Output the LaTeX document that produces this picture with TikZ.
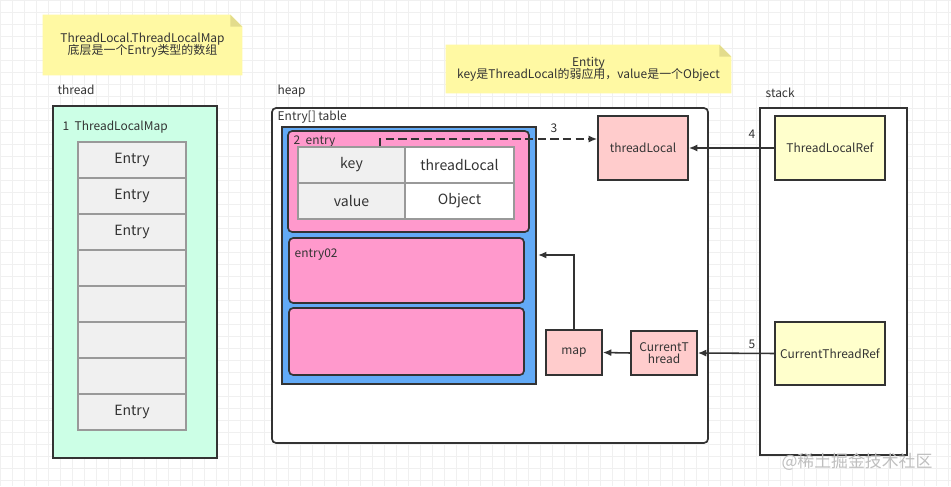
\documentclass[tikz,border=0pt]{standalone}
\usepackage{fontspec}
\setmainfont{Noto Sans CJK SC}
\usepackage{tikz}
\usetikzlibrary{arrows.meta,calc,backgrounds}
\definecolor{notefill}{HTML}{FFF9A3}
\definecolor{notefold}{HTML}{E3DC8C}
\definecolor{mintfill}{HTML}{CCFFE6}
\definecolor{cellfill}{HTML}{F0F0F0}
\definecolor{bluefill}{HTML}{62AAF6}
\definecolor{pinkfill}{HTML}{FF99CC}
\definecolor{objfill}{HTML}{FFCCCC}
\definecolor{reffill}{HTML}{FFFFCC}
\definecolor{ink}{HTML}{333333}
\newcommand{\lbltxt}{\fontsize{8.5}{10.5}\selectfont}
\newcommand{\celltxt}{\fontsize{10}{12}\selectfont}
\tikzstyle{box}=[rectangle, line width=1.2pt, draw=ink, inner sep=0pt, anchor=center, text=ink, font=\lbltxt, align=center]
\tikzstyle{cell}=[rectangle, line width=0.9pt, draw=black!40, fill=cellfill, inner sep=0pt, anchor=center, text=ink, font=\celltxt]
\tikzstyle{annot}=[align=center, text=ink, font=\lbltxt, inner sep=1pt]
\tikzstyle{ref}=[line width=1.1pt, draw=ink, -{Latex[length=6pt,width=5pt]}]

\begin{document}
\begin{tikzpicture}[x=0.025cm, y=-0.025cm]
	\useasboundingbox (0,0) rectangle (951,486);
	\fill[white] (0,0) rectangle (951,486);
	\draw[black!6, step=0.3cm] (0,0) grid (951,486);

	% notes
	\node[annot, minimum width=4.975cm, minimum height=1.5cm](note1) at (142.5,45){};
	\fill[notefill] (note1.south west) -- (note1.north west) -- ([xshift=-0.3cm]note1.north east) -- ([yshift=-0.3cm]note1.north east) -- (note1.south east) -- cycle;
	\fill[notefold] ([xshift=-0.3cm]note1.north east) -- ([yshift=-0.3cm]note1.north east) -- ([xshift=-0.3cm, yshift=-0.3cm]note1.north east) -- cycle;
	\node[annot] at (142.5,45) {ThreadLocal.ThreadLocalMap\\[-2pt]底层是一个Entry类型的数组};

	\node[annot, minimum width=7.125cm, minimum height=1.2cm](note2) at (588.5,69){};
	\fill[notefill] (note2.south west) -- (note2.north west) -- ([xshift=-0.3cm]note2.north east) -- ([yshift=-0.3cm]note2.north east) -- (note2.south east) -- cycle;
	\fill[notefold] ([xshift=-0.3cm]note2.north east) -- ([yshift=-0.3cm]note2.north east) -- ([xshift=-0.3cm, yshift=-0.3cm]note2.north east) -- cycle;
	\node[annot] at (588.5,69) {Entity\\[-2pt]key是ThreadLocal的弱应用，value是一个Object};

	% thread
	\node[annot, anchor=west](threadlbl) at (56,90) {thread};
	\node[box, fill=mintfill, minimum width=4.1cm, minimum height=8.8cm](thread) at (135,282){};
	\node[annot, anchor=west](maplbl) at (61,127) {1\ \ ThreadLocalMap};
	\foreach \y/\t [count=\i] in {160/Entry,196/Entry,232/Entry,268/,304/,340/,376/,412/Entry}
		\node[cell, minimum width=2.7cm, minimum height=0.9cm](slot\i) at (132,\y){\t};

	% heap
	\node[annot, anchor=west](heaplbl) at (276,91) {heap};
	\node[box, fill=white, rounded corners=3pt, minimum width=10.9cm, minimum height=8.375cm](heap) at (490,275.5){};
	\node[annot, anchor=west](tablelbl) at (276,117) {Entry[] table};
	\node[box, fill=bluefill, minimum width=6.35cm, minimum height=6.425cm](table) at (409,255.5){};
	\node[box, fill=pinkfill, rounded corners=3pt, minimum width=6.025cm, minimum height=2.525cm](entry01) at (408.5,181.5){};
	\node[annot, anchor=west](entrylbl) at (292,142) {2\ \ entry};
	\node[cell, minimum width=2.675cm, minimum height=0.9cm](key) at (351.5,165){key};
	\node[cell, fill=white, minimum width=2.725cm, minimum height=0.9cm](keyval) at (459.5,165){threadLocal};
	\node[cell, minimum width=2.675cm, minimum height=0.9cm](value) at (351.5,201){value};
	\node[cell, fill=white, minimum width=2.725cm, minimum height=0.9cm](valueval) at (459.5,201){Object};
	\node[box, fill=pinkfill, rounded corners=3pt, minimum width=5.875cm, minimum height=1.625cm](entry02) at (406.5,270.5){};
	\node[annot, anchor=west] at (293,255) {entry02};
	\node[box, fill=pinkfill, rounded corners=3pt, minimum width=5.875cm, minimum height=1.675cm](entry03) at (406.5,341.5){};

	\node[box, fill=objfill, minimum width=2.25cm, minimum height=1.6cm](threadLocal) at (643,148){threadLocal};
	\node[box, fill=objfill, minimum width=1.4cm, minimum height=1.125cm](map) at (574,352.5){map};
	\node[box, fill=objfill, minimum width=1.65cm, minimum height=1.1cm](currentThread) at (664,353){CurrentT\\[-2pt]hread};

	% stack
	\node[annot, anchor=west](stacklbl) at (764,93) {stack};
	\node[box, fill=white, minimum width=3.675cm, minimum height=8.675cm](stack) at (833.5,281.5){};
	\node[box, fill=reffill, minimum width=2.75cm, minimum height=1.6cm](threadLocalRef) at (830,148){ThreadLocalRef};
	\node[box, fill=reffill, minimum width=2.75cm, minimum height=1.575cm](currentThreadRef) at (830,353.5){CurrentThreadRef};

	% references
	\coordinate (keyref) at (380,146);
	\coordinate (slotref) at (538,255);
	\draw[ref, dashed, dash pattern=on 6pt off 3pt] (keyref) |- ([yshift=0.225cm]threadLocal.west);
	\node[annot] at (554,128) {3};
	\draw[ref] (threadLocalRef.west) -- (threadLocal.east);
	\node[annot] at (752,134) {4};
	\draw[ref] (currentThreadRef.west) -- (currentThread.east);
	\node[annot] at (752,344) {5};
	\draw[ref] (currentThread.west) -- (map.east);
	\draw[ref] (map.north) |- (slotref);

	\node[annot, text=black!25, font=\fontsize{12}{14}\selectfont] at (857,462) {@稀土掘金技术社区};

\end{tikzpicture}
\end{document}
